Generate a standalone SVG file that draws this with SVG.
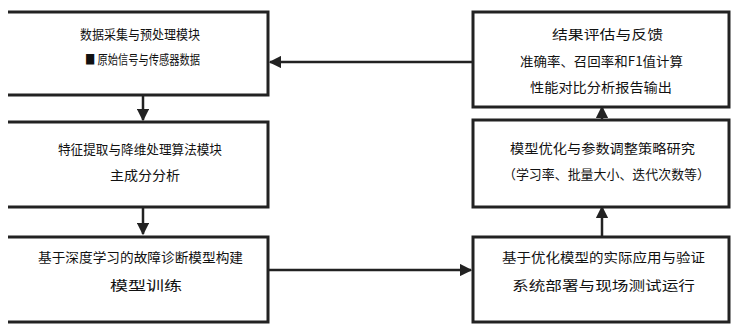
<svg xmlns="http://www.w3.org/2000/svg" width="732" height="324" viewBox="0 0 732 324">
<style>
.box{fill:#fff;stroke:#222;stroke-width:3}
.open{fill:none;stroke:#222;stroke-width:3}
.t{font-family:"Noto Sans CJK SC","Liberation Sans",sans-serif;font-size:13px;fill:#111;text-anchor:start}
.c{fill:none;stroke:#222;stroke-width:2.5}
</style>
<defs>
<marker id="ah" viewBox="0 0 10 10" refX="9" refY="5" markerWidth="5" markerHeight="5" orient="auto-start-reverse">
<path d="M0,0 L10,5 L0,10 z" fill="#222"/>
</marker>
</defs>
<rect width="732" height="324" fill="#fff"/>
<g id="connectors">
<path class="c" d="M143,95 V120" marker-end="url(#ah)"/>
<path class="c" d="M143,207 V234" marker-end="url(#ah)"/>
<path class="c" d="M602,207 V236" marker-start="url(#ah)"/>
<path class="c" d="M602,107 V119" marker-start="url(#ah)"/>
<path class="c" d="M473,62 H270" marker-end="url(#ah)"/>
<path class="c" d="M268,270 H471" marker-end="url(#ah)"/>
</g>
<g id="L1">
<path class="open" d="M8,12 H268 V95 H8"/>
<text class="t" x="80" y="39" textLength="120" lengthAdjust="spacingAndGlyphs">数据采集与预处理模块</text>
<text class="t" x="85" y="64" font-size="11" textLength="115" lengthAdjust="spacingAndGlyphs">■ 原始信号与传感器数据</text>
</g>
<g id="L2">
<path class="open" d="M8,122 H268 V207 H8"/>
<text class="t" x="58" y="154" textLength="164" lengthAdjust="spacingAndGlyphs">特征提取与降维处理算法模块</text>
<text class="t" x="110" y="180" textLength="70" lengthAdjust="spacingAndGlyphs">主成分分析</text>
</g>
<g id="L3">
<path class="open" d="M8,237 H268 V322 H8"/>
<text class="t" x="38" y="262" textLength="205" lengthAdjust="spacingAndGlyphs">基于深度学习的故障诊断模型构建</text>
<text class="t" x="110" y="290" textLength="72" lengthAdjust="spacingAndGlyphs">模型训练</text>
</g>
<g id="R1">
<rect class="box" x="473" y="12" width="256" height="95"/>
<text class="t" x="552" y="39" textLength="111" lengthAdjust="spacingAndGlyphs">结果评估与反馈</text>
<text class="t" x="520" y="66" textLength="163" lengthAdjust="spacingAndGlyphs">准确率、召回率和F1值计算</text>
<text class="t" x="530" y="92" textLength="142" lengthAdjust="spacingAndGlyphs">性能对比分析报告输出</text>
</g>
<g id="R2">
<rect class="box" x="473" y="120" width="256" height="87"/>
<text class="t" x="510" y="153" textLength="185" lengthAdjust="spacingAndGlyphs">模型优化与参数调整策略研究</text>
<text class="t" x="503" y="179" textLength="207" lengthAdjust="spacingAndGlyphs">（学习率、批量大小、迭代次数等）</text>
</g>
<g id="R3">
<rect class="box" x="473" y="237" width="256" height="85"/>
<text class="t" x="502" y="262" textLength="203" lengthAdjust="spacingAndGlyphs">基于优化模型的实际应用与验证</text>
<text class="t" x="512" y="290" textLength="183" lengthAdjust="spacingAndGlyphs">系统部署与现场测试运行</text>
</g>
</svg>
